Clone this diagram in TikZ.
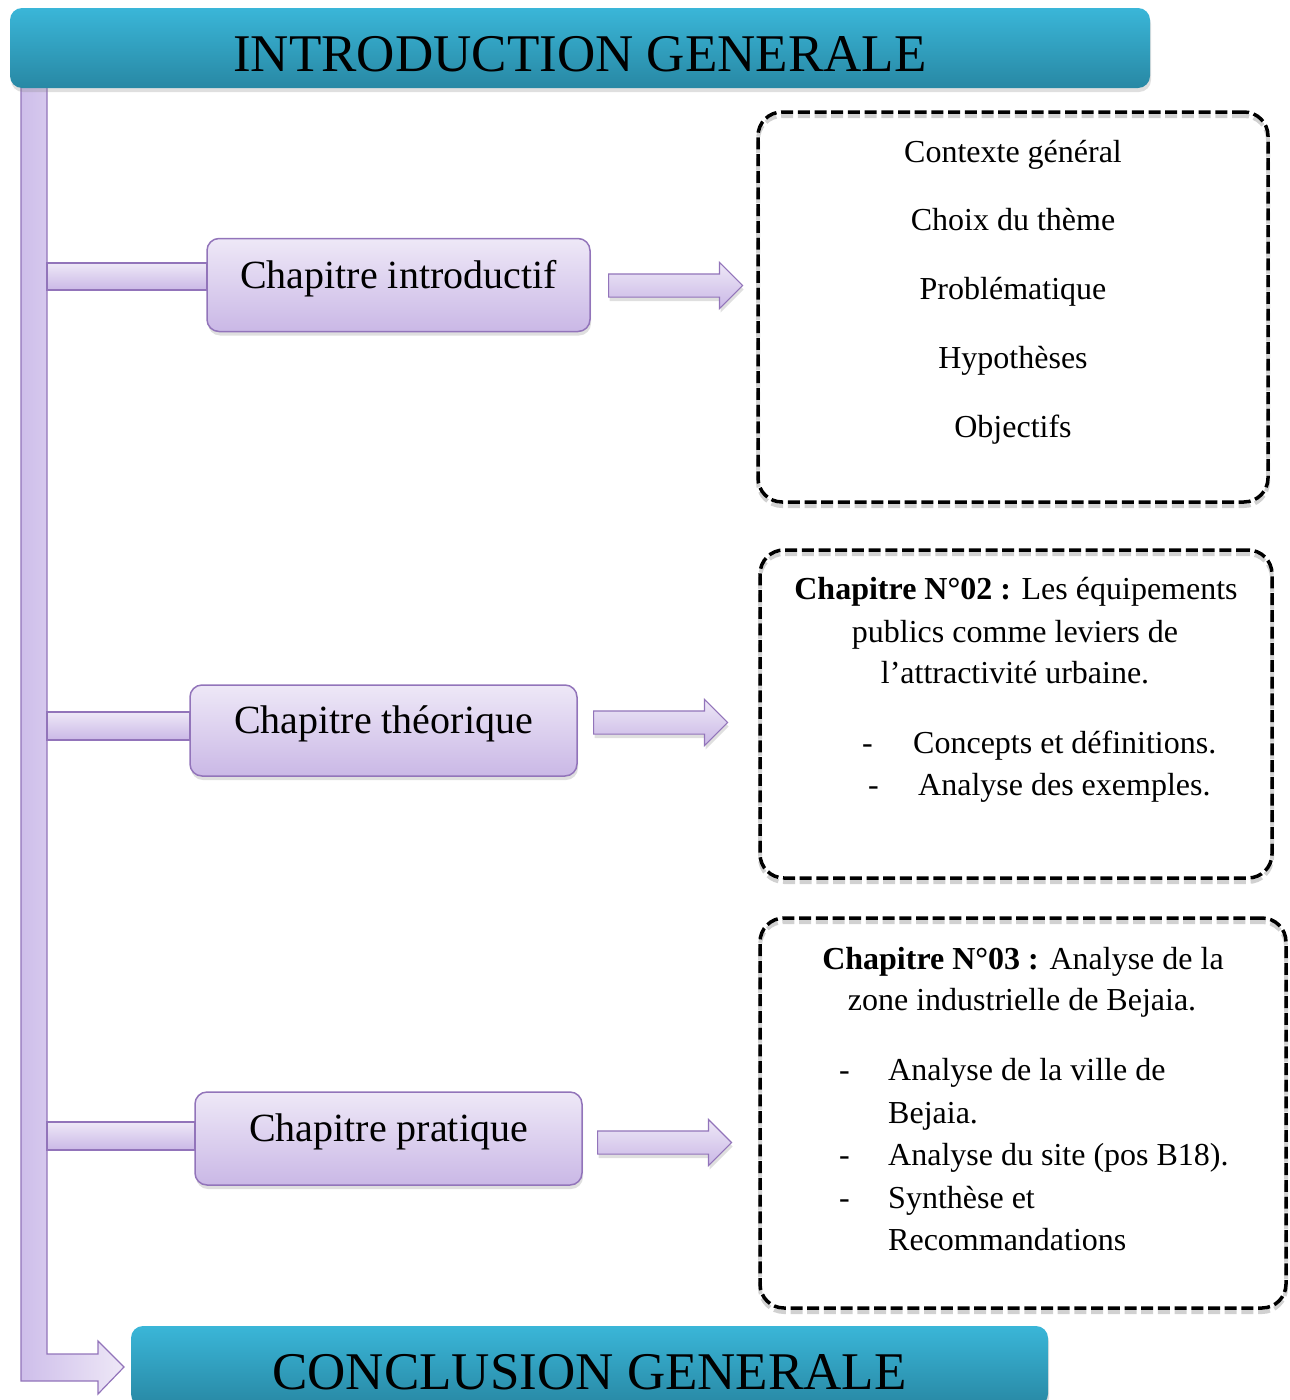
\documentclass[tikz,border=0pt]{standalone}
\usepackage{fontspec}
\setmainfont{Liberation Serif}
\usetikzlibrary{shapes.arrows, shadows, positioning}

\definecolor{bandeauHaut}{RGB}{58,182,216}
\definecolor{bandeauBas}{RGB}{40,136,164}
\definecolor{mauveClair}{RGB}{238,232,247}
\definecolor{mauveFonce}{RGB}{202,184,230}
\definecolor{mauveTrait}{RGB}{146,116,186}
\definecolor{mauveBarre}{RGB}{206,190,234}

\begin{document}
\begin{tikzpicture}[x=1pt, y=-1pt,
		ombre/.style={drop shadow={opacity=0.25, shadow xshift=1pt, shadow yshift=-4pt}},
		bandeau/.style={rounded corners=12pt, top color=bandeauHaut, bottom color=bandeauBas, inner sep=0pt, minimum height=80pt, text height=46pt, text depth=0pt, font=\fontsize{53}{60}\selectfont, ombre},
		chapitre/.style={rounded corners=12pt, top color=mauveClair, bottom color=mauveFonce, draw=mauveTrait, line width=1.5pt, minimum height=93pt, text height=28pt, text depth=22pt, font=\fontsize{40}{48}\selectfont, ombre},
		branche/.style={top color=mauveClair, bottom color=mauveFonce, draw=mauveTrait, line width=1.2pt},
		fleche/.style={single arrow, single arrow head extend=11.5pt, minimum height=134pt, inner xsep=0pt, inner ysep=11pt, anchor=tail, top color=mauveClair, bottom color=mauveFonce, draw=mauveTrait, line width=1.2pt, ombre},
		cadre/.style={rounded corners=24pt, draw=black, line width=3.5pt, dash pattern=on 12pt off 4.7pt,
			preaction={draw=black, opacity=0.18, line width=4pt, dash pattern=on 12pt off 4.7pt, transform canvas={yshift=-4pt}}},
		txt/.style={inner sep=0pt, font=\fontsize{32}{40}\selectfont}]

				\useasboundingbox (0,0) rectangle (1290,1400);
				\clip (0,0) rectangle (1290,1400);

				\draw[left color=mauveBarre, right color=mauveClair, draw=mauveTrait, line width=1.2pt]
				(21,80) -- (47,80) -- (47,1354) -- (98,1354) -- (98,1341) -- (124,1367)
				-- (98,1394) -- (98,1381) -- (21,1381) -- cycle;

				\node[bandeau, minimum width=1140pt] (intro) at (580,48) {INTRODUCTION GENERALE};
				\node[bandeau, minimum width=917pt] (conclusion) at (589.5,1366) {CONCLUSION GENERALE};

				\node[chapitre, minimum width=383pt] (chapIntro) at (398.5,285) {Chapitre introductif};
				\node[chapitre, minimum width=387pt, minimum height=91pt] (chapTheo) at (383.5,730.5) {Chapitre théorique};
				\node[chapitre, minimum width=387pt] (chapPrat) at (388.5,1138.5) {Chapitre pratique};

				\draw[branche] (47,263) rectangle (chapIntro.west |- 0,290);
				\draw[branche] (47,712) rectangle (chapTheo.west |- 0,740);
				\draw[branche] (47,1122) rectangle (chapPrat.west |- 0,1150);

				\node[fleche] (flecheIntro) at (608,285.5) {};
				\node[fleche] (flecheTheo) at (593,722.5) {};
				\node[fleche] (flechePrat) at (597,1142.5) {};

				\node[cadre, minimum width=510pt, minimum height=390pt] (cadreIntro) at (1013,307) {};
				\node[cadre, minimum width=512pt, minimum height=328pt] (cadreTheo) at (1016,714) {};
				\node[cadre, minimum width=526pt, minimum height=390pt] (cadrePrat) at (1023,1113) {};

				\foreach \ligne [count=\i] in {Contexte général, Choix du thème, Problématique, Hypothèses, Objectifs}
				\node[txt, anchor=base] (introL\i) at (1013,162+68.75*\i-68.75) {\ligne};

				\node[txt, anchor=base] (theoL1) at (1016,599) {\textbf{Chapitre N°02 :} Les équipements};
				\node[txt, anchor=base] (theoL2) at (1015,642) {publics comme leviers de};
				\node[txt, anchor=base] (theoL3) at (1015,683) {l’attractivité urbaine.};
				\node[txt, anchor=base west] (theoT1) at (862,753) {-};
				\node[txt, anchor=base west] (theoP1) at (913,753) {Concepts et définitions.};
				\node[txt, anchor=base west] (theoT2) at (868,795) {-};
				\node[txt, anchor=base west] (theoP2) at (918,795) {Analyse des exemples.};

				\node[txt, anchor=base] (pratL1) at (1023,969) {\textbf{Chapitre N°03 :} Analyse de la};
				\node[txt, anchor=base] (pratL2) at (1022,1010) {zone industrielle de Bejaia.};
				\node[txt, anchor=base west] (pratT1) at (839,1080) {-};
				\node[txt, anchor=base west] (pratP1) at (888,1080) {Analyse de la ville de};
				\node[txt, anchor=base west] (pratP1b) at (888,1123) {Bejaia.};
				\node[txt, anchor=base west] (pratT2) at (839,1165) {-};
				\node[txt, anchor=base west] (pratP2) at (888,1165) {Analyse du site (pos B18).};
				\node[txt, anchor=base west] (pratT3) at (839,1208) {-};
				\node[txt, anchor=base west] (pratP3) at (888,1208) {Synthèse et};
				\node[txt, anchor=base west] (pratP3b) at (888,1250) {Recommandations};

\end{tikzpicture}
\end{document}
